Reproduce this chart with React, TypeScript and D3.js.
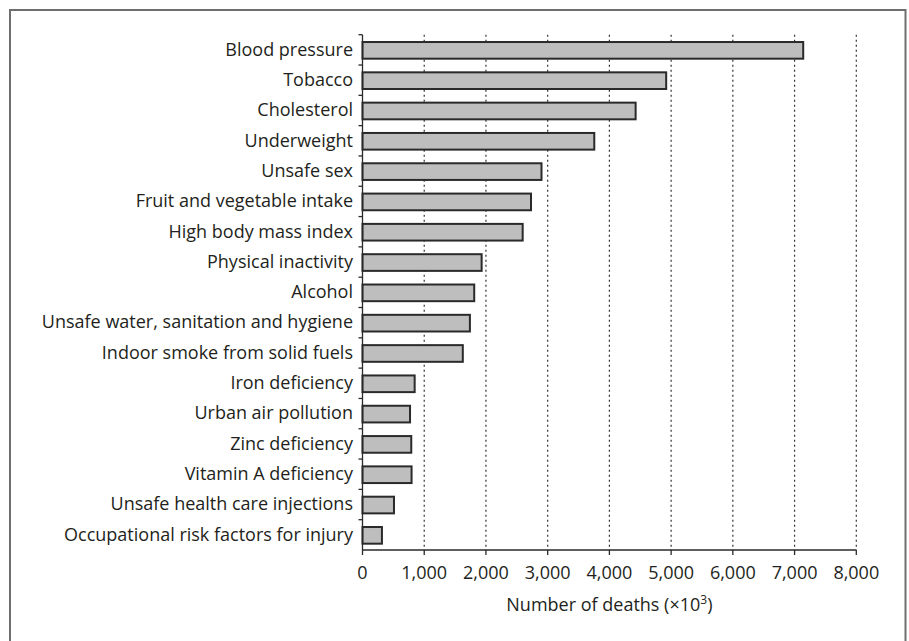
import React from 'react';
import * as d3 from 'd3';

const categories = [
  'Blood pressure',
  'Tobacco',
  'Cholesterol',
  'Underweight',
  'Unsafe sex',
  'Fruit and vegetable intake',
  'High body mass index',
  'Physical inactivity',
  'Alcohol',
  'Unsafe water, sanitation and hygiene',
  'Indoor smoke from solid fuels',
  'Iron deficiency',
  'Urban air pollution',
  'Zinc deficiency',
  'Vitamin A deficiency',
  'Unsafe health care injections',
  'Occupational risk factors for injury',
];
const deaths = [7140, 4920, 4425, 3755, 2900, 2730, 2595, 1930, 1810, 1740, 1625, 845, 770, 790, 795, 510, 315];
const xTicks = [0, 1000, 2000, 3000, 4000, 5000, 6000, 7000, 8000];
const xTitle = 'Number of deaths (×10';

const W = 909;
const H = 641;
const FONT = "'Open Sans', 'Noto Sans', sans-serif";
const FS = 18;

export default function App() {
  const x = d3.scaleLinear().domain([0, 8000]).range([362.5, 856.3]);
  const y = d3.scaleBand().domain(categories).range([34.7, 550]).padding(0);
  const step = y.step();
  const barH = step * 0.55;
  const y0 = 550;
  const fmt = d3.format(',');

  return (
    <svg width={W} height={H} style={{ position: 'absolute', left: 0, top: 0, background: '#fff' }}>
      <rect x={10} y={10} width={895.5} height={720} fill="#fff" stroke="#6e6e6e" strokeWidth={2} />

      {/* dotted gridlines */}
      {xTicks.slice(1).map((t) => (
        <line key={'g' + t} x1={x(t)} x2={x(t)} y1={34.7} y2={y0} stroke="#333" strokeWidth={1.2} strokeDasharray="2,3" />
      ))}

      {/* bars */}
      {categories.map((c, i) => (
        <rect
          key={c}
          x={x(0)}
          y={(y(c) as number) + (step - barH) / 2 + 0.5}
          width={x(deaths[i]) - x(0)}
          height={barH}
          fill="#bebebe"
          stroke="#2a2a2a"
          strokeWidth={2}
        />
      ))}

      {/* y axis */}
      <line x1={x(0)} x2={x(0)} y1={34.7} y2={y0} stroke="#2a2a2a" strokeWidth={1.3} />
      {categories.map((c) => (
        <line key={'yt' + c} x1={x(0) - 4} x2={x(0)} y1={y(c) as number} y2={y(c) as number} stroke="#2a2a2a" strokeWidth={1.3} />
      ))}
      {categories.map((c) => (
        <text
          key={'yl' + c}
          x={353}
          y={(y(c) as number) + step / 2 + 1}
          textAnchor="end"
          dominantBaseline="middle"
          fontFamily={FONT}
          fontSize={FS}
          fill="#231f20"
        >
          {c}
        </text>
      ))}

      {/* x axis */}
      <line x1={x(0)} x2={x(8000)} y1={y0} y2={y0} stroke="#2a2a2a" strokeWidth={1.3} />
      {xTicks.map((t) => (
        <g key={'xt' + t}>
          <line x1={x(t)} x2={x(t)} y1={y0} y2={y0 + 5} stroke="#2a2a2a" strokeWidth={1.3} />
          <text x={x(t)} y={579} textAnchor="middle" fontFamily={FONT} fontSize={FS} fill="#231f20">
            {fmt(t)}
          </text>
        </g>
      ))}
      <text x={(x(0) + x(8000)) / 2} y={611} textAnchor="middle" fontFamily={FONT} fontSize={FS} fill="#231f20">
        {xTitle}
        <tspan dy={-7} fontSize={12}>3</tspan>
        <tspan dy={7}>)</tspan>
      </text>
    </svg>
  );
}
